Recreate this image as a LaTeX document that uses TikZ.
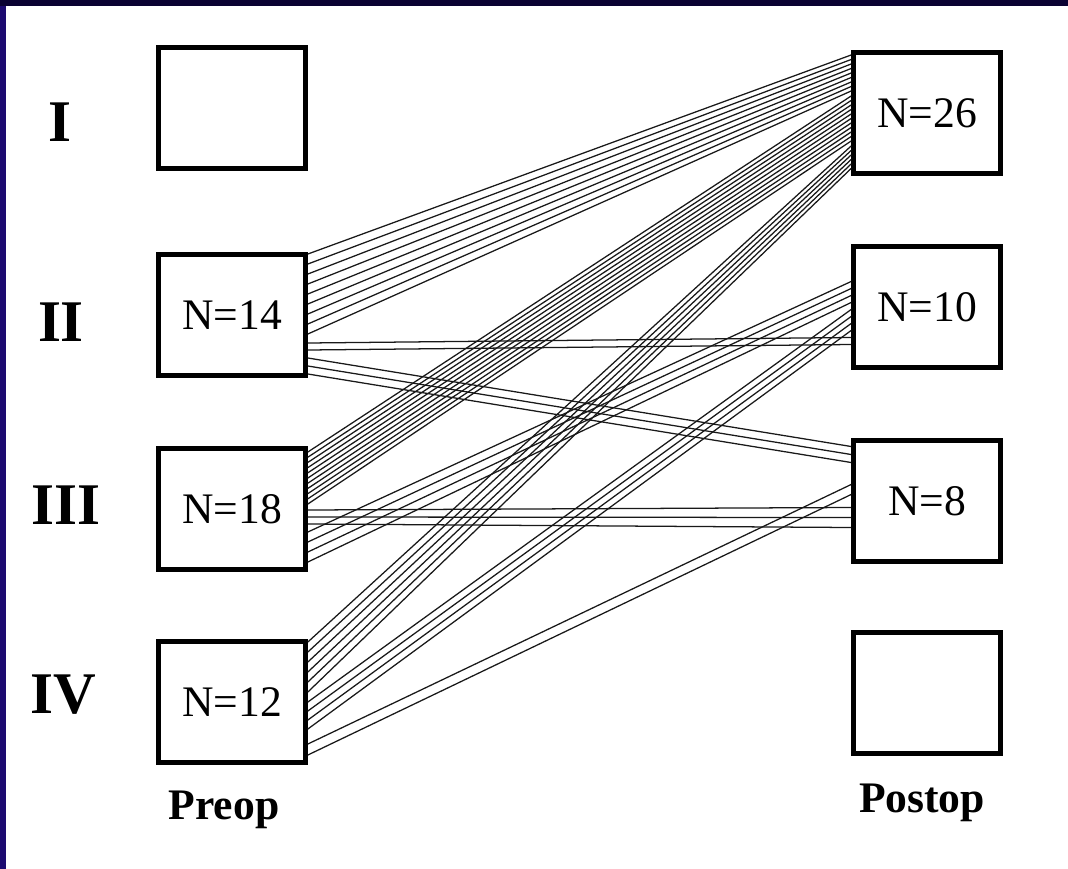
\documentclass[tikz,border=0pt]{standalone}
\usepackage{fontspec}
\setmainfont{Liberation Serif}
\usepackage{xcolor}
\usetikzlibrary{positioning,calc}
\definecolor{framenavy}{HTML}{0A0232}
\definecolor{frameblue}{HTML}{1C0A70}

\begin{document}
\begin{tikzpicture}[
        x=0.025cm, y=-0.025cm,
        gradebox/.style={rectangle, draw, line width=3.2pt, fill=white, minimum width=3.68cm, minimum height=3.03cm, inner sep=0pt, font=\fontsize{31}{35}\selectfont},
        grade/.style={font=\bfseries\fontsize{42}{46}\selectfont},
        caption/.style={font=\bfseries\fontsize{31}{35}\selectfont},
        flow/.style={line width=0.9pt, black!90},
        ]

        % Frame
        \fill[framenavy] (0,0) rectangle (1068,869);
        \fill[frameblue] (0,6) rectangle (6,869);
        \fill[white] (6,6) rectangle (1068,869);
        \useasboundingbox (0,0) rectangle (1068,869);

        % Grade labels
        \node[grade] (gradeI) at (60,122) {I};
        \node[grade] (gradeII) at (61,322) {II};
        \node[grade] (gradeIII) at (66,505) {III};
        \node[grade] (gradeIV) at (63,695) {IV};

        % Preop boxes
        \node[gradebox] (pre1) at (232,108) {};
        \node[gradebox] (pre2) at (232,315) {N=14};
        \node[gradebox] (pre3) at (232,509) {N=18};
        \node[gradebox] (pre4) at (232,702) {N=12};

        % Postop boxes
        \node[gradebox] (post1) at (927,113) {N=26};
        \node[gradebox] (post2) at (927,307) {N=10};
        \node[gradebox] (post3) at (927,501) {N=8};
        \node[gradebox] (post4) at (927,693) {};

        % Column captions
        \node[caption] (preop) at (224,810) {Preop};
        \node[caption] (postop) at (922,803) {Postop};

        % Patient flows: source/target/last index/start/step/end/step
        \foreach \src/\dst/\last/\ya/\dya/\yb/\dyb in {
                pre2/post1/8/-61/10/-58/4.5,
                pre2/post2/1/28/7/30.5/7,
                pre2/post3/2/43/8/-54.5/8,
                pre3/post1/10/-57/5.2/-17/4.5,
                pre3/post3/2/1/7/6.5/10,
                pre3/post2/3/23/10/-25.5/7,
                pre4/post1/5/-60/10/33/4.5,
                pre4/post2/3/0/9/2.5/7,
                pre4/post3/1/42/11/-16.5/10}
            \foreach \i in {0,...,\last}
                \draw[flow] ($(\src.east)+(0,\ya+\dya*\i)$) -- ($(\dst.west)+(0,\yb+\dyb*\i)$);

    \end{tikzpicture}
\end{document}
